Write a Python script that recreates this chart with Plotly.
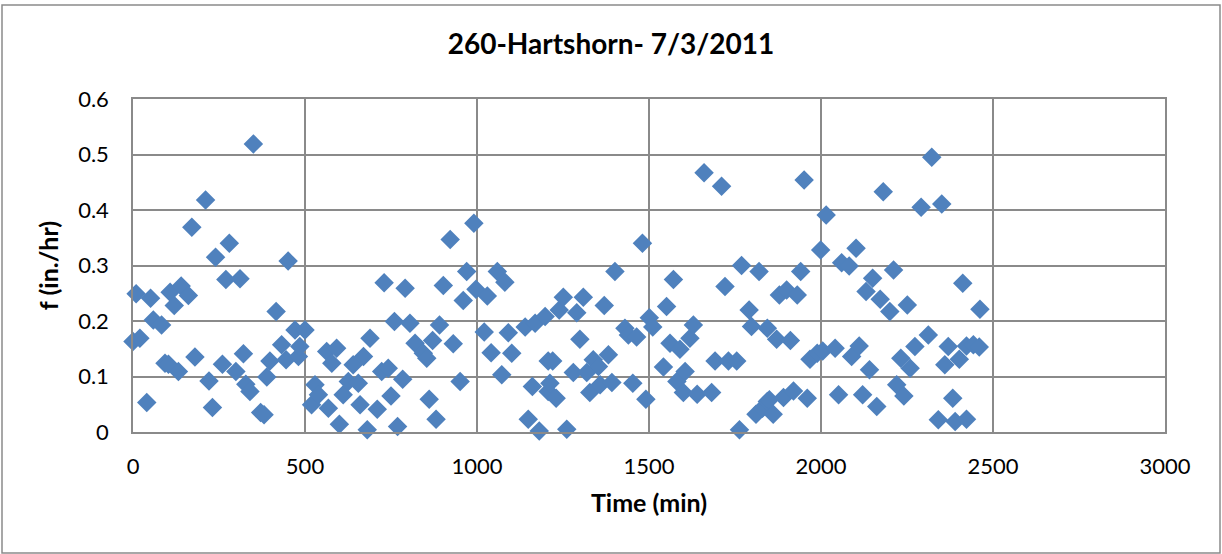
import plotly.graph_objects as go

time_min = [0, 9, 20, 40, 51, 59, 83, 93, 103, 108, 120, 132, 140, 161, 171, 180, 211, 221, 231, 240,
            260, 270, 280, 299, 311, 321, 328, 340, 350, 371, 381, 389, 398, 416, 432, 445, 451, 471, 481,
            485, 500, 519, 529, 539, 563, 568, 578, 592, 600, 611, 626, 640, 655, 660, 670, 681, 689, 710,
            723, 730, 742, 750, 760, 769, 784, 791, 805, 820, 844, 854, 861, 871, 881, 891, 902, 922, 931,
            951, 960, 970, 991, 997, 1021, 1030, 1041, 1059, 1072, 1081, 1091, 1101, 1140, 1149, 1161,
            1169, 1181, 1198, 1207, 1207, 1212, 1220, 1230, 1239, 1251, 1261, 1280, 1290, 1299, 1309,
            1319, 1328, 1338, 1353, 1358, 1370, 1382, 1392, 1401, 1430, 1440, 1453, 1464, 1481, 1491,
            1501, 1511, 1542, 1551, 1561, 1571, 1581, 1590, 1600, 1605, 1619, 1629, 1640, 1660, 1682,
            1692, 1711, 1721, 1731, 1755, 1763, 1769, 1791, 1798, 1811, 1820, 1830, 1844, 1844, 1850,
            1861, 1871, 1879, 1891, 1900, 1911, 1920, 1931, 1941, 1951, 1960, 1968, 1989, 1999, 2005,
            2015, 2041, 2051, 2060, 2082, 2089, 2102, 2111, 2121, 2131, 2141, 2150, 2162, 2172, 2181,
            2200, 2211, 2220, 2232, 2241, 2251, 2259, 2273, 2291, 2312, 2322, 2341, 2351, 2360, 2370,
            2383, 2390, 2402, 2412, 2423, 2423, 2443, 2460, 2462]

f_rate = [0.163, 0.249, 0.169, 0.053, 0.241, 0.202, 0.193, 0.124, 0.122, 0.252, 0.228, 0.109, 0.263,
          0.246, 0.369, 0.135, 0.418, 0.092, 0.044, 0.315, 0.122, 0.275, 0.340, 0.109, 0.276, 0.141,
          0.086, 0.073, 0.519, 0.035, 0.031, 0.099, 0.128, 0.217, 0.157, 0.130, 0.308, 0.184, 0.136,
          0.154, 0.184, 0.049, 0.085, 0.067, 0.145, 0.043, 0.124, 0.151, 0.014, 0.067, 0.091, 0.121,
          0.088, 0.049, 0.136, 0.004, 0.169, 0.041, 0.109, 0.269, 0.115, 0.065, 0.199, 0.010, 0.095,
          0.259, 0.196, 0.160, 0.142, 0.133, 0.059, 0.165, 0.023, 0.193, 0.264, 0.347, 0.159, 0.091,
          0.237, 0.289, 0.376, 0.257, 0.180, 0.245, 0.143, 0.289, 0.103, 0.270, 0.179, 0.142, 0.189,
          0.023, 0.082, 0.196, 0.002, 0.208, 0.128, 0.073, 0.088, 0.128, 0.061, 0.220, 0.243, 0.005,
          0.107, 0.215, 0.167, 0.243, 0.107, 0.071, 0.130, 0.118, 0.085, 0.228, 0.139, 0.089, 0.289,
          0.187, 0.175, 0.088, 0.171, 0.340, 0.059, 0.206, 0.189, 0.117, 0.226, 0.160, 0.275, 0.091,
          0.149, 0.071, 0.109, 0.169, 0.193, 0.068, 0.467, 0.071, 0.128, 0.443, 0.262, 0.128, 0.128,
          0.004, 0.300, 0.220, 0.190, 0.032, 0.289, 0.043, 0.187, 0.055, 0.058, 0.032, 0.167, 0.247,
          0.062, 0.256, 0.165, 0.074, 0.247, 0.289, 0.454, 0.061, 0.131, 0.142, 0.328, 0.146, 0.391,
          0.151, 0.067, 0.305, 0.299, 0.136, 0.331, 0.155, 0.067, 0.253, 0.112, 0.277, 0.046, 0.239,
          0.433, 0.217, 0.292, 0.085, 0.133, 0.065, 0.229, 0.115, 0.154, 0.405, 0.175, 0.495, 0.022,
          0.411, 0.121, 0.154, 0.061, 0.019, 0.131, 0.268, 0.155, 0.023, 0.157, 0.153, 0.221]

x_ticks = [0, 500, 1000, 1500, 2000, 2500, 3000]
y_ticks = [0, 0.1, 0.2, 0.3, 0.4, 0.5, 0.6]
y_tick_labels = ["0", "0.1", "0.2", "0.3", "0.4", "0.5", "0.6"]

FONT = "Lato"
GRID = "#8a8a8a"

fig = go.Figure()
fig.add_trace(go.Scatter(
    x=time_min, y=f_rate, mode="markers",
    marker=dict(symbol="diamond", size=15, color="#4F81BD", line=dict(width=0)),
    cliponaxis=False, showlegend=False,
))

fig.update_layout(
    width=1222, height=554,
    margin=dict(l=133, r=57, t=99, b=122),
    paper_bgcolor="white", plot_bgcolor="white",
    title=dict(text="<b>260-Hartshorn- 7/3/2011</b>", x=0.5, xref="container", xanchor="center",
               y=1 - 44 / 554, yref="container", yanchor="middle",
               font=dict(family=FONT, size=28, color="black")),
    font=dict(family=FONT, color="black"),
    xaxis=dict(range=[0, 3000], tickvals=x_ticks, ticktext=[str(v) for v in x_ticks],
               showgrid=True, gridcolor=GRID, gridwidth=1.5, zeroline=False,
               showline=True, linecolor=GRID, linewidth=1.5, mirror=True,
               ticks="", ticklabelstandoff=14, tickfont=dict(family=FONT, size=22, color="black"),
               title=dict(text="<b>Time (min)</b>", font=dict(family=FONT, size=25, color="black"),
                          standoff=16)),
    yaxis=dict(range=[0, 0.6], tickvals=y_ticks, ticktext=y_tick_labels,
               showgrid=True, gridcolor=GRID, gridwidth=1.5, zeroline=False,
               showline=True, linecolor=GRID, linewidth=1.5, mirror=True,
               ticks="", ticklabelstandoff=18, tickfont=dict(family=FONT, size=22, color="black"),
               title=dict(text="<b>f (in./hr)</b>", font=dict(family=FONT, size=25, color="black"),
                          standoff=12)),
    shapes=[dict(type="rect", xref="paper", yref="paper",
                 x0=(2 - 133) / 1032, x1=(1220 - 133) / 1032,
                 y0=(432 - 553) / 333, y1=(432 - 5) / 333,
                 line=dict(color="#8a8a8a", width=1.5), fillcolor="rgba(0,0,0,0)", layer="below")],
)

fig.write_html("out.html", config={"displayModeBar": False},
               post_script="document.body.style.margin='0';")
